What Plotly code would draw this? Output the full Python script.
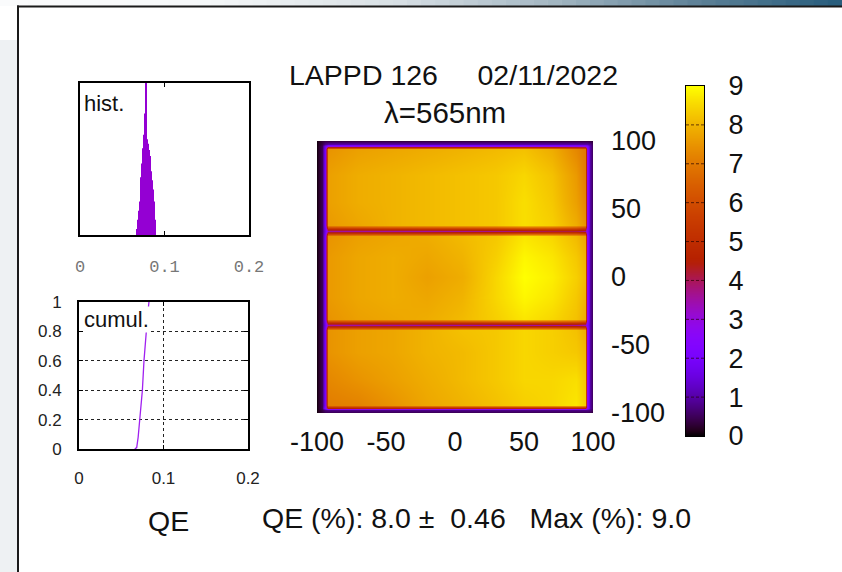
import numpy as np
import plotly.graph_objects as go

W, H = 842, 572

# ---- QE map (%) on a non-uniform node grid (mm) ----
MAP_X = [-103, -100, -96.5, -94, -92, -70, -45, -20, 5, 30, 50, 70, 88, 94, 96, 98, 100, 103]
MAP_Y = [-103, -100, -98, -96, -94, -75, -55, -39, -35, -31, -15, 0, 15, 30, 34, 38, 55, 75,
         94, 96, 98, 100, 103]
MAP_QE = [
    [0.1, 0.1, 0.2, 0.3, 0.3, 0.3, 0.3, 0.3, 0.3, 0.3, 0.3, 0.3, 0.3, 0.3, 0.3, 0.3, 0.2, 0.2],
    [0.1, 0.1, 0.3, 0.4, 0.4, 0.4, 0.4, 0.4, 0.4, 0.4, 0.4, 0.4, 0.4, 0.4, 0.4, 0.4, 0.3, 0.2],
    [0.1, 0.1, 0.4, 0.7, 0.8, 0.8, 0.8, 0.8, 0.8, 0.8, 0.8, 0.8, 0.8, 0.8, 0.8, 0.7, 0.4, 0.2],
    [0.1, 0.1, 0.5, 2.4, 4.6, 4.7, 4.7, 4.7, 4.7, 4.7, 4.7, 4.7, 4.7, 4.6, 2.8, 1.0, 0.4, 0.2],
    [0.1, 0.1, 0.5, 2.0, 7.1, 7.2, 7.5, 7.8, 8.0, 8.2, 8.4, 8.5, 8.7, 8.4, 2.8, 1.0, 0.4, 0.2],
    [0.1, 0.1, 0.5, 2.0, 7.3, 7.5, 7.7, 7.9, 8.1, 8.3, 8.5, 8.5, 8.6, 8.3, 2.8, 1.0, 0.4, 0.2],
    [0.1, 0.1, 0.5, 2.0, 7.5, 7.7, 7.8, 8.0, 8.1, 8.3, 8.5, 8.4, 8.3, 8.1, 2.8, 1.0, 0.4, 0.2],
    [0.1, 0.1, 0.5, 2.0, 7.5, 7.7, 7.8, 8.0, 8.2, 8.3, 8.5, 8.4, 8.2, 7.9, 2.8, 1.0, 0.4, 0.2],
    [0.1, 0.1, 0.5, 1.8, 3.5, 3.5, 3.5, 3.5, 3.5, 3.5, 3.5, 3.6, 3.6, 3.4, 2.4, 1.0, 0.4, 0.2],
    [0.1, 0.1, 0.5, 2.0, 7.5, 7.7, 7.8, 7.9, 8.1, 8.4, 8.7, 8.5, 8.2, 7.9, 2.8, 1.0, 0.4, 0.2],
    [0.1, 0.1, 0.5, 2.0, 7.6, 7.8, 7.9, 7.8, 8.0, 8.5, 8.9, 8.7, 8.3, 8.0, 2.8, 1.0, 0.4, 0.2],
    [0.1, 0.1, 0.5, 2.0, 7.6, 7.8, 7.9, 7.7, 7.9, 8.5, 9.0, 8.8, 8.4, 8.1, 2.8, 1.0, 0.4, 0.2],
    [0.1, 0.1, 0.5, 2.0, 7.6, 7.8, 7.9, 7.8, 8.0, 8.4, 8.9, 8.7, 8.3, 8.0, 2.8, 1.0, 0.4, 0.2],
    [0.1, 0.1, 0.5, 2.0, 7.5, 7.7, 7.8, 7.9, 8.1, 8.3, 8.7, 8.5, 8.1, 7.8, 2.8, 1.0, 0.4, 0.2],
    [0.1, 0.1, 0.5, 1.8, 3.5, 3.5, 3.5, 3.5, 3.6, 3.7, 3.9, 4.1, 4.1, 3.7, 2.4, 1.0, 0.4, 0.2],
    [0.1, 0.1, 0.5, 2.0, 7.6, 7.8, 8.0, 8.1, 8.2, 8.3, 8.6, 8.4, 7.9, 7.5, 2.8, 1.0, 0.4, 0.2],
    [0.1, 0.1, 0.5, 2.0, 7.7, 7.9, 8.0, 8.1, 8.2, 8.3, 8.6, 8.3, 7.7, 7.3, 2.8, 1.0, 0.4, 0.2],
    [0.1, 0.1, 0.5, 2.0, 7.7, 7.9, 8.0, 8.1, 8.2, 8.3, 8.5, 8.2, 7.6, 7.1, 2.8, 1.0, 0.4, 0.2],
    [0.1, 0.1, 0.5, 2.0, 7.5, 7.7, 7.8, 7.9, 8.0, 8.1, 8.2, 7.9, 7.3, 7.0, 2.8, 1.0, 0.4, 0.2],
    [0.1, 0.1, 0.5, 1.8, 2.8, 2.8, 2.8, 2.8, 2.8, 2.8, 2.8, 2.8, 2.8, 2.8, 2.4, 1.0, 0.4, 0.2],
    [0.1, 0.1, 0.4, 0.8, 1.0, 1.0, 1.0, 1.0, 1.0, 1.0, 1.0, 1.0, 1.0, 1.0, 1.0, 0.8, 0.4, 0.2],
    [0.1, 0.1, 0.3, 0.4, 0.4, 0.4, 0.4, 0.4, 0.4, 0.4, 0.4, 0.4, 0.4, 0.4, 0.4, 0.4, 0.3, 0.2],
    [0.1, 0.1, 0.1, 0.2, 0.2, 0.2, 0.2, 0.2, 0.2, 0.2, 0.2, 0.2, 0.2, 0.2, 0.2, 0.2, 0.1, 0.1],
]
MAP_TICKS = [-100, -50, 0, 50, 100]
MAP_TICK_TEXT = ["-100", "-50", "0", "50", "100"]

# ---- QE histogram (fraction) ----
HIST_QE = [0.0675, 0.0685, 0.0695, 0.0705, 0.0715, 0.0725, 0.0735, 0.0745,
           0.0755, 0.0765, 0.0775, 0.0785, 0.0795, 0.0805, 0.0815, 0.0825,
           0.0835, 0.0845, 0.0855, 0.0865, 0.0875, 0.0885]
HIST_COUNT = [0.04, 0.10, 0.16, 0.22, 0.30, 0.38, 0.47, 0.57,
              0.66, 0.80, 1.35, 1.20, 0.63, 0.60, 0.56, 0.52,
              0.47, 0.42, 0.36, 0.30, 0.22, 0.10]

# ---- cumulative distribution (rising part; flat ends lie on the frame) ----
CUMUL_QE = [0.066, 0.0683, 0.070, 0.0722, 0.075, 0.0769, 0.0793, 0.0815, 0.0828]
CUMUL_FRAC = [0.0, 0.01, 0.08, 0.20, 0.40, 0.60, 0.80, 0.93, 1.0]

SMALL_XTICKS = [0, 0.1, 0.2]
SMALL_XTICK_TEXT = ["0", "0.1", "0.2"]
CUMUL_YTICKS = [0, 0.2, 0.4, 0.6, 0.8, 1]
CUMUL_YTICK_TEXT = ["0", "0.2", "0.4", "0.6", "0.8", "1"]

# ---- colour scale levels ----
CBAR_LEVELS = [0, 1, 2, 3, 4, 5, 6, 7, 8, 9]

TITLE = "LAPPD 126     02/11/2022"
SUBTITLE = "λ=565nm"
SUMMARY = "QE (%): 8.0 \u00b1  0.46   Max (%): 9.0"


def gnuplot_colorscale(n=64):
    """gnuplot rgbformulae 7,5,15 palette."""
    stops = []
    for t in np.linspace(0, 1, n):
        r = np.sqrt(t)
        g = t ** 3
        b = max(np.sin(2 * np.pi * t), 0.0)
        stops.append([float(t), "rgb(%d,%d,%d)" % (round(255 * r), round(255 * g), round(255 * b))])
    return stops


CS = gnuplot_colorscale()
FONT = "Liberation Sans, Arial, sans-serif"


def px(x):
    return x / W


def py(y):
    return 1 - y / H


fig = go.Figure()

# QE map
fig.add_trace(go.Heatmap(
    x=MAP_X, y=MAP_Y, z=MAP_QE, zmin=0, zmax=9, colorscale=CS,
    zsmooth="best", showscale=False, hoverinfo="skip",
    xaxis="x", yaxis="y",
))

# histogram
fig.add_trace(go.Bar(
    x=HIST_QE, y=HIST_COUNT, width=0.001, marker=dict(color="#9400d3", line=dict(width=0)),
    xaxis="x2", yaxis="y2", hoverinfo="skip", showlegend=False,
))

# cumulative
fig.add_trace(go.Scatter(
    x=CUMUL_QE, y=CUMUL_FRAC, mode="lines", line=dict(color="#a020f0", width=1.3),
    xaxis="x3", yaxis="y3", hoverinfo="skip", showlegend=False,
))

# colour scale bar
fig.add_trace(go.Heatmap(
    x=[0, 1], y=CBAR_LEVELS, z=[[v, v] for v in CBAR_LEVELS], zmin=0, zmax=9,
    colorscale=CS, zsmooth="best", showscale=False, hoverinfo="skip",
    xaxis="x4", yaxis="y4",
))

shapes = []

# slide background: graded top band and pale left band
top_key = [(0, (250, 251, 252)), (200, (246, 248, 249)), (400, (215, 223, 228)),
           (560, (160, 180, 192)), (700, (92, 128, 150)), (842, (38, 92, 124))]
n_seg = 60
for i in range(n_seg):
    xa, xb = i * W / n_seg, (i + 1) * W / n_seg
    xm = 0.5 * (xa + xb)
    for (k0, c0), (k1, c1) in zip(top_key[:-1], top_key[1:]):
        if k0 <= xm <= k1:
            f = (xm - k0) / (k1 - k0)
            col = tuple(round(a + f * (b - a)) for a, b in zip(c0, c1))
            break
    shapes.append(dict(type="rect", xref="paper", yref="paper",
                       x0=px(xa), x1=px(xb + 0.5), y0=py(6), y1=1,
                       fillcolor="rgb(%d,%d,%d)" % col, line=dict(width=0), layer="below"))
shapes.append(dict(type="rect", xref="paper", yref="paper", x0=0, x1=px(17),
                   y0=0, y1=py(40), fillcolor="#eef1f3", line=dict(width=0), layer="below"))
shapes.append(dict(type="line", xref="paper", yref="paper", x0=px(18), x1=px(18),
                   y0=0, y1=py(5.5), line=dict(color="#1a1a1a", width=2)))
shapes.append(dict(type="line", xref="paper", yref="paper", x0=px(17), x1=1,
                   y0=py(6.5), y1=py(6.5), line=dict(color="#1a1a1a", width=2)))

# dashed level marks across the colour bar
for v in CBAR_LEVELS[1:-1]:
    shapes.append(dict(type="line", xref="x4 domain", yref="y4", x0=0, x1=1, y0=v, y1=v,
                       line=dict(color="rgba(40,0,0,0.7)", width=1, dash="3px,2px"), layer="above"))

title_font = dict(family=FONT, size=28.5, color="#111")
big = dict(family=FONT, size=27, color="#111")
label = dict(family=FONT, size=22, color="#111")
small = dict(family=FONT, size=17, color="#222")
mono = dict(family="Liberation Mono, Courier New, monospace", size=17, color="#777")

annotations = [
    dict(text=TITLE, x=px(453), y=py(75), xref="paper", yref="paper", showarrow=False,
         font=title_font, xanchor="center", yanchor="middle"),
    dict(text=SUBTITLE, x=px(445), y=py(113), xref="paper", yref="paper", showarrow=False,
         font=dict(family=FONT, size=29.5, color="#111"), xanchor="center", yanchor="middle"),
    dict(text="QE", x=px(168), y=py(521), xref="paper", yref="paper", showarrow=False,
         font=title_font, xanchor="center", yanchor="middle"),
    dict(text=SUMMARY, x=px(476), y=py(518), xref="paper", yref="paper", showarrow=False,
         font=title_font, xanchor="center", yanchor="middle"),
    dict(text="hist.", x=px(82), y=py(103), xref="paper", yref="paper", showarrow=False,
         font=label, xanchor="left", yanchor="middle"),
    dict(text="cumul.", x=px(83), y=py(319), xref="paper", yref="paper", showarrow=False,
         font=label, xanchor="left", yanchor="middle", bgcolor="white", borderpad=0),
]

box = dict(showline=True, linecolor="black", linewidth=2, mirror="ticks",
           zeroline=False, showgrid=False, fixedrange=True)

fig.update_layout(
    width=W, height=H, margin=dict(l=0, r=0, t=0, b=0, pad=0, autoexpand=False),
    paper_bgcolor="white", plot_bgcolor="white", showlegend=False,
    shapes=shapes, annotations=annotations,
    xaxis=dict(domain=[px(317), px(593)], range=[-100, 100], tickvals=MAP_TICKS,
               ticktext=MAP_TICK_TEXT, ticks="", showline=False, showgrid=False,
               zeroline=False, tickfont=big, ticklabelstandoff=10, fixedrange=True,
               automargin=False),
    yaxis=dict(domain=[py(413), py(141)], range=[-100, 100], tickvals=MAP_TICKS,
               ticktext=MAP_TICK_TEXT, side="right", ticks="", showline=False,
               showgrid=False, zeroline=False, tickfont=big, ticklabelstandoff=17,
               fixedrange=True, automargin=False),
    xaxis2=dict(domain=[px(80), px(249)], range=[0, 0.2], tickvals=SMALL_XTICKS,
                ticktext=SMALL_XTICK_TEXT, ticks="inside", ticklen=4, tickcolor="black",
                tickfont=mono, ticklabelstandoff=15, anchor="y2", automargin=False, **box),
    yaxis2=dict(domain=[py(235), py(83)], range=[0, 1], showticklabels=False, ticks="",
                anchor="x2", automargin=False, **box),
    xaxis3=dict(domain=[px(79), px(248)], range=[0, 0.2], tickvals=SMALL_XTICKS,
                ticktext=SMALL_XTICK_TEXT, ticks="inside", ticklen=4, tickcolor="black",
                tickfont=small, ticklabelstandoff=13, anchor="y3", automargin=False,
                showline=True, linecolor="black", linewidth=2, mirror="ticks",
                zeroline=False, showgrid=True, gridcolor="#222", griddash="dot", gridwidth=1,
                fixedrange=True),
    yaxis3=dict(domain=[py(449), py(302)], range=[0, 1], tickvals=CUMUL_YTICKS,
                ticktext=CUMUL_YTICK_TEXT, ticks="inside", ticklen=4,
                tickcolor="black", tickfont=small, ticklabelstandoff=12, anchor="x3",
                automargin=False,
                showline=True, linecolor="black", linewidth=2, mirror="ticks",
                zeroline=False, showgrid=True, gridcolor="#222", griddash="dot", gridwidth=1,
                fixedrange=True),
    xaxis4=dict(domain=[px(686), px(704)], range=[0, 1], showticklabels=False, ticks="",
                anchor="y4", showline=True, linecolor="black", linewidth=1, mirror=True,
                showgrid=False, zeroline=False, fixedrange=True, automargin=False),
    yaxis4=dict(domain=[py(436), py(86)], range=[0, 9], tickvals=CBAR_LEVELS, side="right",
                ticks="", tickfont=big, ticklabelstandoff=18, anchor="x4", automargin=False,
                showline=True, linecolor="black", linewidth=1, mirror=True,
                showgrid=False, zeroline=False, fixedrange=True),
)

fig.write_html("out.html", config={"displayModeBar": False})
